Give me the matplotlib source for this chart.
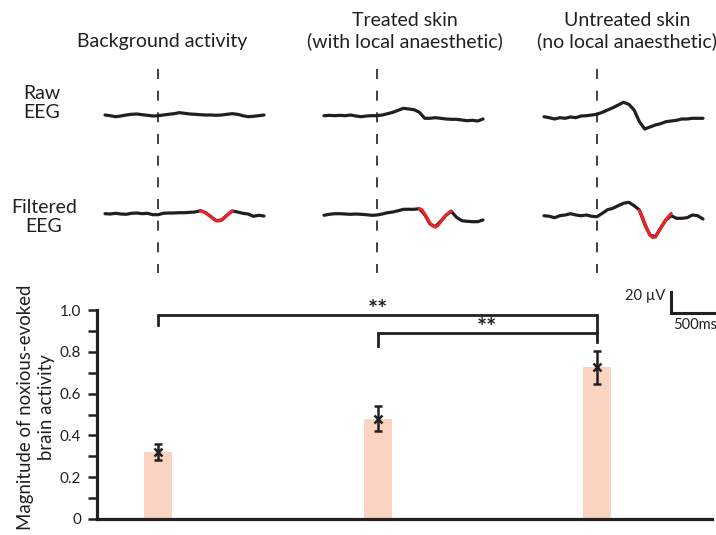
import matplotlib
matplotlib.use('Agg')
import matplotlib.pyplot as plt
import numpy as np

plt.rcParams['font.family'] = ['Lato', 'DejaVu Sans']

# ---- data ----
conditions = ['Background activity',
              'Treated skin\n(with local anaesthetic)',
              'Untreated skin\n(no local anaesthetic)']

# time (ms, stimulus at 0) for the EEG traces
t_ms = [-500, -450, -400, -350, -300, -250, -200, -150, -100, -50, 0,
        50, 100, 150, 200, 250, 300, 350, 400, 450, 500,
        550, 600, 650, 700, 750, 800, 850, 900, 950, 1000]
red_t = [400, 425, 450, 475, 500, 525, 550, 575, 600, 625, 650, 675, 700]

# raw EEG (uV)
raw_bg = [0.5, -0.2, -1.2, -0.5, 0.5, 1.2, 1.5, 0.8, 0.2, -0.5, -0.2,
          0.5, 1.2, 1.8, 2.8, 2.2, 1.5, 1.2, 0.8, 0.5, 0.5,
          0.2, 0.5, 1.2, 1.8, 1.2, -0.2, -1.2, -0.8, -0.2, 0.5]
raw_treated = [-0.2, 0.2, -0.2, 0.2, -0.2, 0.5, -0.5, -1.2, -0.5, -0.2, -0.2,
               0.5, 1.8, 3.2, 5.2, 7.2, 6.5, 5.8, 3.2, -2.8, -2.8,
               -2.2, -2.8, -3.5, -3.8, -3.8, -4.5, -5.2, -4.8, -5.5, -3.5]
raw_untreated = [-1.2, -2.2, -3.5, -2.2, -2.8, -1.5, -2.2, -0.5, -0.2, 0.5, 1.2,
                 3.2, 5.5, 7.8, 10.5, 13.2, 11.2, 5.5, -6.2, -13.5, -11.5,
                 -9.5, -8.2, -6.2, -5.5, -4.8, -3.5, -3.5, -2.8, -2.8, -2.8]

# filtered EEG (uV)
filt_bg = [0.3, 0.0, 0.7, 0.0, -0.3, 0.7, 1.0, 0.3, 0.7, -0.7, -0.7,
           0.7, 1.0, 1.0, 1.3, 1.3, 1.7, 2.0, 3.3, 1.3, -2.7,
           -6.7, -6.0, -1.3, 3.0, 2.0, 0.7, 0.0, -2.3, -1.3, -2.0]
filt_treated = [-1.3, -0.3, 0.3, 0.3, 0.0, -0.3, 0.0, -0.3, -0.7, -1.3, -1.0,
                0.0, 1.3, 2.0, 3.3, 4.7, 4.7, 4.7, 5.3, -0.7, -10.0,
                -12.7, -7.3, -1.3, 2.7, -3.3, -6.7, -7.3, -7.7, -7.7, -6.0]
filt_untreated = [-1.7, -2.3, -3.7, -1.7, -1.0, 0.3, -1.0, -1.7, -1.0, -2.3, -2.7,
                  0.7, 4.3, 5.7, 8.3, 10.7, 11.7, 8.3, 4.0, -10.3, -21.0,
                  -22.7, -14.3, -6.0, -1.7, -4.3, -4.3, -3.7, -1.0, -1.7, -5.0]

# fitted (red) component
red_bg = [3.3, 2.3, 1.0, -1.0, -3.0, -5.0, -6.7, -7.0, -6.0, -4.0, -1.5, 1.0, 3.0]
red_treated = [5.3, 4.0, 0.0, -4.5, -9.0, -12.0, -13.0, -11.5, -8.0, -4.5, -1.5, 1.0, 3.0]
red_untreated = [3.5, -2.0, -9.0, -16.0, -21.0, -23.5, -23.0, -19.0, -14.0, -9.5, -5.5, -2.5, 0.5]

raw_traces = [raw_bg, raw_treated, raw_untreated]
filt_traces = [filt_bg, filt_treated, filt_untreated]
red_traces = [red_bg, red_treated, red_untreated]

# bar chart
bar_means = [0.32, 0.48, 0.725]
bar_err = [0.04, 0.06, 0.08]

# ---- styling ----
BLACK = '#231f20'
RED = '#e8262a'
PEACH = '#fbd3c1'
W, H = 716, 535
FILT_OFFSET = -98.5  # vertical gap between raw and filtered rows (uV)

fig = plt.figure(figsize=(W / 100, H / 100), dpi=100)


def px_axes(left, top, right, bottom):
    ax = fig.add_axes([left / W, 1 - bottom / H, (right - left) / W, (bottom - top) / H])
    ax.patch.set_visible(False)
    return ax


stim_px = [158, 377, 597]
trace_axes = []
for c in range(3):
    s = stim_px[c]
    ax = px_axes(s - 53, 60, s + 106, 275)
    ax.set_xlim(-500, 1000)
    ax.set_ylim(-159.5, 55.5)
    ax.axis('off')
    ax.plot([0, 0], [47, -158], color=BLACK, lw=1.2, linestyle=(0, (6, 7)))
    ax.plot(t_ms, raw_traces[c], color=BLACK, lw=2.3, clip_on=False,
            solid_joinstyle='round', solid_capstyle='round')
    ax.plot(t_ms, np.array(filt_traces[c]) + FILT_OFFSET, color=BLACK, lw=2.3,
            clip_on=False, solid_joinstyle='round', solid_capstyle='round')
    ax.plot(red_t, np.array(red_traces[c]) + FILT_OFFSET, color=RED, lw=2.3,
            clip_on=False, solid_joinstyle='round', solid_capstyle='round')
    trace_axes.append(ax)

# scale bar: 20 uV, 500 ms (the time bar runs off the right edge, as in the original)
sb = trace_axes[2]
sb.plot([700, 700, 1200], [-176.5, -197.5, -197.5], color=BLACK, lw=2.2,
        clip_on=False, solid_joinstyle='miter', zorder=5)
fig.text(665 / W, 1 - 296 / H, '20 µV', ha='right', va='center', fontsize=10.5, color=BLACK)
fig.text(673 / W, 1 - 325 / H, '500ms', ha='left', va='center', fontsize=10.5, color=BLACK)

# column titles and row labels
title_x = [162, 405, 627]
title_y = [42, 31, 31]
for c in range(3):
    fig.text(title_x[c] / W, 1 - title_y[c] / H, conditions[c], ha='center', va='center',
             fontsize=14, color=BLACK, linespacing=1.2)
fig.text(42 / W, 1 - 103 / H, 'Raw\nEEG', ha='center', va='center', fontsize=14,
         color=BLACK, linespacing=1.2)
fig.text(44 / W, 1 - 217 / H, 'Filtered\nEEG', ha='center', va='center', fontsize=14,
         color=BLACK, linespacing=1.2)

# ---- bar chart ----
bx = px_axes(97, 310, 712, 519)
x = np.arange(3)
bx.set_xlim((97 - 158) / 219.5, (712 - 158) / 219.5)
bx.set_ylim(0, 1.0)
bx.bar(x, bar_means, width=28 / 219.5, color=PEACH, zorder=1)
bx.errorbar(x, bar_means, yerr=bar_err, fmt='x', color=BLACK, ms=5.5, mew=1.8,
            elinewidth=1.8, capsize=3.2, capthick=1.8, zorder=3)

# significance brackets
bx.plot([0, 0, 2, 2], [0.928, 0.976, 0.976, 0.847], color=BLACK, lw=2,
        clip_on=False, solid_joinstyle='miter')
bx.plot([1, 1, 2], [0.83, 0.89, 0.89], color=BLACK, lw=2,
        clip_on=False, solid_joinstyle='miter')
bx.text(1.0, 0.962, '**', ha='center', va='baseline', fontsize=17,
        fontweight='bold', color=BLACK)
bx.text(1.5, 0.876, '**', ha='center', va='baseline', fontsize=17,
        fontweight='bold', color=BLACK)

for side in ['top', 'right']:
    bx.spines[side].set_visible(False)
for side in ['left', 'bottom']:
    bx.spines[side].set_linewidth(2.3)
    bx.spines[side].set_color(BLACK)
bx.set_xticks([])
bx.set_yticks([0, 0.2, 0.4, 0.6, 0.8, 1.0])
bx.set_yticklabels(['0', '0.2', '0.4', '0.6', '0.8', '1.0'])
bx.set_yticks([0.1, 0.3, 0.5, 0.7, 0.9], minor=True)
bx.tick_params(axis='y', which='both', direction='out', length=6.5, width=1.8,
               pad=5, labelsize=11, colors=BLACK)

fig.text(36 / W, 1 - 407 / H, 'Magnitude of noxious-evoked\nbrain activity', rotation=90,
         ha='center', va='center', fontsize=13.4, color=BLACK, linespacing=1.35)

fig.savefig('out.png', dpi=100)
